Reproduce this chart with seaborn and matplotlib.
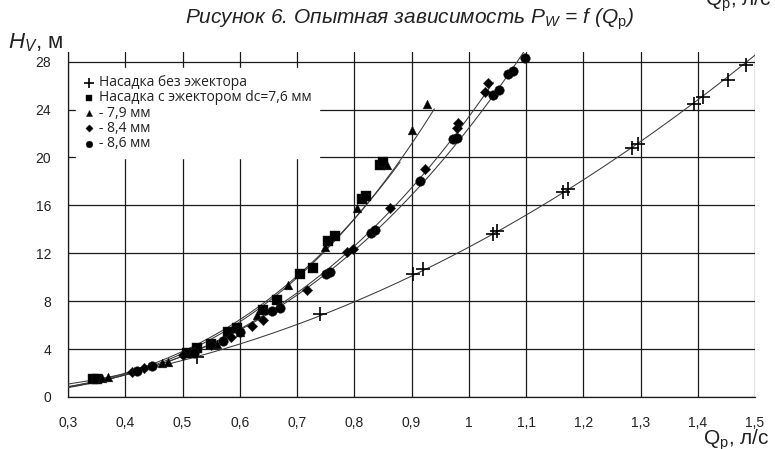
import numpy as np
import pandas as pd
import matplotlib
matplotlib.use("Agg")
import matplotlib.pyplot as plt
import seaborn as sns

# ---- data ----
x_plus = [0.526, 0.74, 0.903, 0.92, 1.042, 1.049, 1.165, 1.174, 1.285, 1.295, 1.394, 1.41, 1.453, 1.485]
y_plus = [3.3, 6.9, 10.25, 10.67, 13.6, 13.87, 17.15, 17.4, 20.8, 21.15, 24.5, 25.04, 26.5, 27.7]

x_sq = [0.344, 0.35, 0.507, 0.525, 0.55, 0.58, 0.595, 0.64, 0.665, 0.705, 0.728, 0.755, 0.766, 0.813, 0.82, 0.845, 0.85]
y_sq = [1.48, 1.5, 3.65, 4.07, 4.4, 5.45, 5.8, 7.3, 8.1, 10.3, 10.75, 13.0, 13.45, 16.5, 16.8, 19.4, 19.6]

x_tri = [0.359, 0.37, 0.464, 0.475, 0.52, 0.56, 0.6, 0.63, 0.685, 0.749, 0.804, 0.857, 0.9, 0.927]
y_tri = [1.56, 1.65, 2.8, 2.95, 3.8, 4.4, 5.4, 6.85, 9.35, 12.55, 15.8, 19.4, 22.3, 24.5]

x_dia = [0.411, 0.432, 0.5, 0.55, 0.585, 0.621, 0.641, 0.717, 0.787, 0.798, 0.862, 0.924, 0.979, 0.982, 1.028, 1.034]
y_dia = [2.1, 2.4, 3.5, 4.3, 5.0, 5.9, 6.4, 8.95, 12.1, 12.35, 15.8, 19.05, 22.45, 22.9, 25.5, 26.2]

x_cir = [0.42, 0.446, 0.52, 0.57, 0.6, 0.656, 0.67, 0.751, 0.758, 0.83, 0.836, 0.915, 0.973, 0.979, 1.043, 1.052, 1.069, 1.078, 1.098]
y_cir = [2.2, 2.55, 3.7, 4.7, 5.4, 7.2, 7.4, 10.3, 10.4, 13.7, 13.9, 18.0, 21.5, 21.6, 25.2, 25.6, 27.0, 27.2, 28.3]

labels = ["Насадка без эжектора", "Насадка с эжектором dc=7,6 мм", "- 7,9 мм", "- 8,4 мм", "- 8,6 мм"]
x_ticks = [0.3, 0.4, 0.5, 0.6, 0.7, 0.8, 0.9, 1.0, 1.1, 1.2, 1.3, 1.4, 1.5]
x_tick_labels = ["0,3", "0,4", "0,5", "0,6", "0,7", "0,8", "0,9", "1", "1,1", "1,2", "1,3", "1,4", "1,5"]
y_ticks = [0, 4, 8, 12, 16, 20, 24, 28]

# trend-line extents (style)
line_ranges = [(0.3, 1.505), (0.3, 0.88), (0.3, 0.94), (0.3, 1.043), (0.3, 1.1)]
markers = ["+", "s", "^", "D", "o"]
msizes = [90, 45, 40, 28, 48]

sns.set_theme(style="white")
plt.rcParams["font.family"] = ["Liberation Sans", "DejaVu Sans"]
plt.rcParams["mathtext.fontset"] = "custom"
plt.rcParams["mathtext.rm"] = "Liberation Sans"
plt.rcParams["mathtext.it"] = "Liberation Sans:italic"

fig = plt.figure(figsize=(7.75, 4.49), dpi=100)
ax = fig.add_axes([68 / 775, 52 / 449, 687 / 775, 345 / 449])

series = [(x_plus, y_plus), (x_sq, y_sq), (x_tri, y_tri), (x_dia, y_dia), (x_cir, y_cir)]
for (xs, ys), lab, mk, ms, rng in zip(series, labels, markers, msizes, line_ranges):
    # power-law trend line y = a * x^b fitted to the points
    b, ln_a = np.polyfit(np.log(xs), np.log(ys), 1)
    xx = np.linspace(rng[0], rng[1], 200)
    fit = pd.DataFrame({"x": xx, "y": np.exp(ln_a) * xx ** b})
    sns.lineplot(data=fit, x="x", y="y", ax=ax, color="#3a3a3a", lw=0.75, zorder=3)
    df = pd.DataFrame({"x": xs, "y": ys})
    if mk == "+":
        sns.scatterplot(data=df, x="x", y="y", ax=ax, marker="+", s=ms, color="black",
                        linewidth=1.2, zorder=4, label=lab)
    else:
        sns.scatterplot(data=df, x="x", y="y", ax=ax, marker=mk, s=ms, color="black",
                        edgecolor="#222222", linewidth=0.3, zorder=4, label=lab)

ax.set_xlim(0.3, 1.5)
ax.set_ylim(0, 28.8)
ax.set_xticks(x_ticks)
ax.set_xticklabels(x_tick_labels)
ax.set_yticks(y_ticks)
ax.set_xlabel("")
ax.set_ylabel("")
for y in y_ticks:
    ax.axhline(y, color="#1a1a1a", lw=0.9, zorder=1)
for x in x_ticks:
    ax.axvline(x, color="#1a1a1a", lw=0.9, zorder=1)
for s in ["top", "right"]:
    ax.spines[s].set_visible(False)
for s in ["left", "bottom"]:
    ax.spines[s].set_color("#1a1a1a")
    ax.spines[s].set_linewidth(0.9)
ax.tick_params(axis="both", direction="out", length=8, width=0.9, color="#1a1a1a",
               labelsize=10, labelcolor="#222222", pad=4)
ax.tick_params(axis="x", pad=6)

leg = ax.legend(loc="upper left", bbox_to_anchor=(0.005, 0.965), frameon=True, fancybox=False,
                edgecolor="white", facecolor="white", framealpha=1,
                prop={"family": ["Open Sans", "DejaVu Sans"], "size": 10},
                handletextpad=0.2, labelspacing=0.02, borderpad=0.5, handlelength=1.0,
                markerscale=0.7, borderaxespad=0.3)
leg.set_zorder(5)
for t in leg.get_texts():
    t.set_color("#222222")

fig.text(0.528, 0.958, r"Рисунок 6. Опытная зависимость P$_W$ = f (Q$_\mathrm{p}$)", ha="center", va="center",
         fontsize=15, style="italic", color="#222222")
fig.text(0.01, 0.905, r"$\mathit{H}$$_V$, м", ha="left", va="center", fontsize=16, color="#222222")
fig.text(0.993, 0.02, r"Q$_\mathrm{p}$, л/с", ha="right", va="center", fontsize=15, color="#222222")
fig.text(0.995, 1 - 6 / 449, r"Q$_\mathrm{p}$, л/с", ha="right", va="baseline", fontsize=15, color="#222222")

fig.savefig("out.png", dpi=100)
